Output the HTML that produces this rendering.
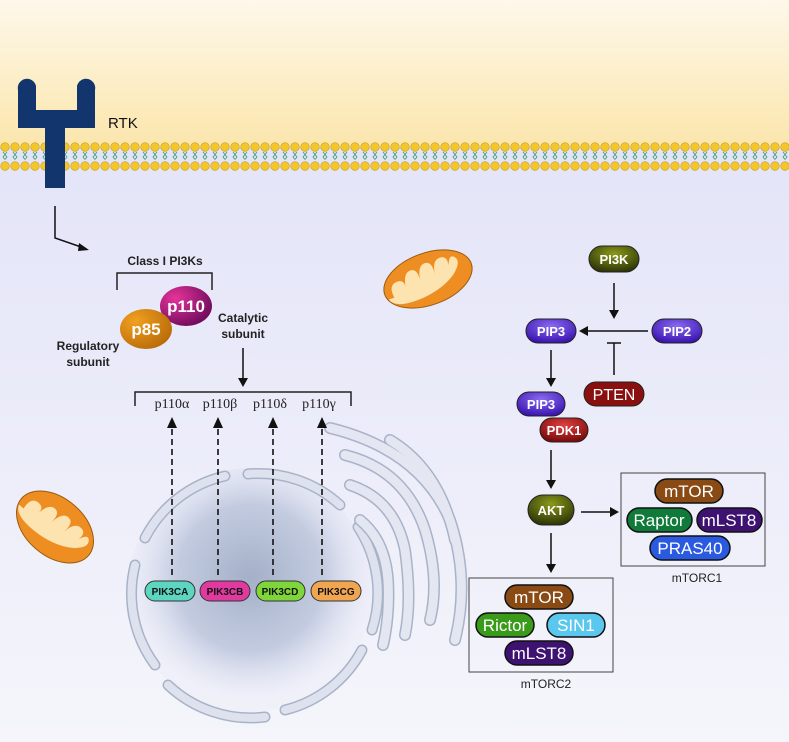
<!DOCTYPE html>
<html><head><meta charset="utf-8"><style>
html,body{margin:0;padding:0;width:789px;height:742px;overflow:hidden;background:#eceef9}
svg{display:block}
text{font-family:"Liberation Sans",sans-serif}
</style></head><body>
<svg width="789" height="742" viewBox="0 0 789 742" xmlns="http://www.w3.org/2000/svg">
<defs>
<linearGradient id="top" x1="0" y1="0" x2="0" y2="1"><stop offset="0" stop-color="#fdf8ea"/><stop offset="1" stop-color="#fbe6ad"/></linearGradient>
<linearGradient id="cyt" x1="0" y1="0" x2="0" y2="1"><stop offset="0" stop-color="#e3e4f8"/><stop offset="1" stop-color="#f5f5fb"/></linearGradient>
<radialGradient id="nuc" cx="0.5" cy="0.45" r="0.5"><stop offset="0" stop-color="#a4b0c8"/><stop offset="0.6" stop-color="#c3cbe0"/><stop offset="1" stop-color="#e6e8f6" stop-opacity="0.3"/></radialGradient>
<radialGradient id="g110" cx="0.3" cy="0.3" r="0.8"><stop offset="0" stop-color="#e6339a"/><stop offset="1" stop-color="#6a0a5a"/></radialGradient>
<radialGradient id="g85" cx="0.3" cy="0.3" r="0.8"><stop offset="0" stop-color="#f0a020"/><stop offset="1" stop-color="#b86a08"/></radialGradient>
<radialGradient id="gol" cx="0.5" cy="0.3" r="0.7"><stop offset="0" stop-color="#8a9a1a"/><stop offset="1" stop-color="#2e3508"/></radialGradient>
<radialGradient id="gpu" cx="0.5" cy="0.3" r="0.7"><stop offset="0" stop-color="#8a6af0"/><stop offset="1" stop-color="#3a14b0"/></radialGradient>
<radialGradient id="grd" cx="0.5" cy="0.3" r="0.7"><stop offset="0" stop-color="#e04040"/><stop offset="1" stop-color="#7a0a0a"/></radialGradient>
<pattern id="lip" x="0" y="142" width="10" height="29" patternUnits="userSpaceOnUse">
<circle cx="5" cy="5" r="4.3" fill="#f3c62a" stroke="#c99a10" stroke-width="0.6"/>
<circle cx="5" cy="24" r="4.3" fill="#f3c62a" stroke="#c99a10" stroke-width="0.6"/>
<path d="M3 10 l2 2.5 -2 2.5 2 2.5 M7 10 l-2 2.5 2 2.5 -2 2.5" stroke="#3a9a6a" stroke-width="0.8" fill="none"/>
</pattern>
</defs>
<rect x="0" y="0" width="789" height="145" fill="url(#top)"/>
<rect x="0" y="145" width="789" height="597" fill="url(#cyt)"/>
<rect x="0" y="142" width="789" height="29" fill="url(#lip)"/>
<!-- RTK -->
<path d="M18 90 a9 9 0 0 1 18 -4 v24 h41 v-24 a9 9 0 0 1 18 4 v38 h-30 v60 h-20 v-60 h-27 z" fill="#12356e"/>
<text x="108" y="128" font-size="15" fill="#111">RTK</text>
<path d="M55 206 V238 L84 248" stroke="#111" stroke-width="1.5" fill="none"/>
<path d="M89 250 l-10 -7 -1 8 z" fill="#111"/>
<!-- mitochondria -->
<g transform="translate(428,279) rotate(-20)">
<ellipse rx="46" ry="26" fill="#ee8e22" stroke="#9a5a10" stroke-width="1"/>
<path d="M-38 6 q-2 -14 8 -14 q8 0 6 10 q2 -16 10 -16 q8 0 6 14 q2 -16 10 -16 q8 0 6 14 q2 -14 10 -14 q8 0 6 10 q4 -10 8 -6 q6 6 -6 16 q-14 10 -36 12 q-30 2 -34 -10z" fill="#fde3b0"/>
</g>
<g transform="translate(55,527) rotate(40)">
<ellipse rx="44" ry="29" fill="#ee8e22" stroke="#9a5a10" stroke-width="1"/>
<path d="M-36 6 q-2 -14 8 -14 q8 0 6 10 q2 -16 10 -16 q8 0 6 14 q2 -16 10 -16 q8 0 6 14 q2 -14 10 -14 q8 0 6 10 q4 -10 8 -6 q6 6 -6 16 q-14 10 -36 12 q-30 2 -34 -10z" fill="#fde3b0"/>
</g>
<!-- Class I -->
<text x="165" y="265" font-size="12" font-weight="bold" text-anchor="middle" fill="#222">Class I PI3Ks</text>
<path d="M117 290 V273 H212 V290" stroke="#222" stroke-width="1.5" fill="none"/>
<ellipse cx="186" cy="306" rx="26" ry="20" fill="url(#g110)"/>
<text x="186" y="312" font-size="17" font-weight="bold" text-anchor="middle" fill="#fff">p110</text>
<ellipse cx="146" cy="329" rx="26" ry="20" fill="url(#g85)"/>
<text x="146" y="335" font-size="17" font-weight="bold" text-anchor="middle" fill="#fff">p85</text>
<text x="88" y="350" font-size="12" font-weight="bold" text-anchor="middle" fill="#222">Regulatory</text>
<text x="88" y="366" font-size="12" font-weight="bold" text-anchor="middle" fill="#222">subunit</text>
<text x="243" y="322" font-size="12" font-weight="bold" text-anchor="middle" fill="#222">Catalytic</text>
<text x="243" y="338" font-size="12" font-weight="bold" text-anchor="middle" fill="#222">subunit</text>
<path d="M243 348 V380" stroke="#111" stroke-width="1.5"/><path d="M238 378 h10 l-5 9z" fill="#111"/>
<path d="M135 406 V392 H351 V406" stroke="#222" stroke-width="1.5" fill="none"/>
<g font-size="14" fill="#222" text-anchor="middle">
<text x="172" y="408" style="font-family:'Liberation Serif',serif">p110α</text>
<text x="220" y="408" style="font-family:'Liberation Serif',serif">p110β</text>
<text x="270" y="408" style="font-family:'Liberation Serif',serif">p110δ</text>
<text x="319" y="408" style="font-family:'Liberation Serif',serif">p110γ</text>
</g>
<!-- nucleus -->
<circle cx="250" cy="590" r="122" fill="url(#nuc)"/>
<g stroke="#a9b3c8" stroke-width="11" fill="none" stroke-linecap="round">
<path d="M145 538 A120 120 0 0 1 225 476" />
<path d="M248 474 A120 120 0 0 1 340 505"/>
<path d="M358 527 A120 120 0 0 1 372 630"/>
<path d="M362 650 A120 120 0 0 1 285 710"/>
<path d="M265 717 A120 120 0 0 1 168 685"/>
<path d="M155 665 A120 120 0 0 1 135 565"/>
</g>
<g stroke="#dde2ee" stroke-width="8" fill="none" stroke-linecap="round">
<path d="M145 538 A120 120 0 0 1 225 476" />
<path d="M248 474 A120 120 0 0 1 340 505"/>
<path d="M358 527 A120 120 0 0 1 372 630"/>
<path d="M362 650 A120 120 0 0 1 285 710"/>
<path d="M265 717 A120 120 0 0 1 168 685"/>
<path d="M155 665 A120 120 0 0 1 135 565"/>
</g>
<!-- golgi -->
<g fill="none" stroke-linecap="round">
<g stroke="#a9b3c8" stroke-width="12">
<path d="M330 428 Q420 450 450 520 Q470 580 455 640"/>
<path d="M345 455 Q405 470 425 530 Q440 580 430 620"/>
<path d="M350 485 Q395 500 405 550 Q412 600 405 635"/>
<path d="M360 520 Q385 540 388 580 Q390 615 383 645"/>
<path d="M390 440 Q440 470 455 540"/>
</g>
<g stroke="#e4e7f2" stroke-width="9">
<path d="M330 428 Q420 450 450 520 Q470 580 455 640"/>
<path d="M345 455 Q405 470 425 530 Q440 580 430 620"/>
<path d="M350 485 Q395 500 405 550 Q412 600 405 635"/>
<path d="M360 520 Q385 540 388 580 Q390 615 383 645"/>
<path d="M390 440 Q440 470 455 540"/>
</g>
</g>
<!-- dashed arrows -->
<g stroke="#111" stroke-width="1.6" stroke-dasharray="6,4">
<path d="M172 575 V425"/><path d="M218 575 V425"/><path d="M273 575 V425"/><path d="M322 575 V425"/>
</g>
<g fill="#111"><path d="M167 428 h10 l-5 -11z"/><path d="M213 428 h10 l-5 -11z"/><path d="M268 428 h10 l-5 -11z"/><path d="M317 428 h10 l-5 -11z"/></g>
<g stroke="#333" stroke-width="1">
<rect x="145" y="581" width="50" height="20" rx="10" fill="#5cd6c0"/>
<rect x="200" y="581" width="50" height="20" rx="10" fill="#e03aa0"/>
<rect x="256" y="581" width="49" height="20" rx="10" fill="#7ed63a"/>
<rect x="311" y="581" width="50" height="20" rx="10" fill="#f0a650"/>
</g>
<g font-size="10" font-weight="bold" text-anchor="middle" fill="#111">
<text x="170" y="595">PIK3CA</text><text x="225" y="595">PIK3CB</text><text x="280" y="595">PIK3CD</text><text x="336" y="595">PIK3CG</text>
</g>
<!-- right pathway -->
<g stroke="#222" stroke-width="1">
<rect x="589" y="246" width="50" height="26" rx="13" fill="url(#gol)"/>
<rect x="526" y="319" width="50" height="24" rx="12" fill="url(#gpu)"/>
<rect x="652" y="319" width="50" height="24" rx="12" fill="url(#gpu)"/>
<rect x="584" y="382" width="60" height="24" rx="12" fill="#8a1010"/>
<rect x="517" y="392" width="48" height="24" rx="12" fill="url(#gpu)"/>
<rect x="540" y="418" width="48" height="24" rx="12" fill="url(#grd)"/>
<rect x="528" y="495" width="46" height="30" rx="15" fill="url(#gol)"/>
</g>
<g font-size="13" font-weight="bold" text-anchor="middle" fill="#fff">
<text x="614" y="264">PI3K</text><text x="551" y="336">PIP3</text><text x="677" y="336">PIP2</text>
<text x="541" y="409">PIP3</text><text x="564" y="435">PDK1</text><text x="551" y="515">AKT</text>
</g>
<text x="614" y="400" font-size="16" text-anchor="middle" fill="#fff">PTEN</text>
<g stroke="#111" stroke-width="1.5" fill="none">
<path d="M614 283 V312"/><path d="M648 331 H586"/><path d="M614 375 V343 M607 343 H621"/>
<path d="M551 350 V380"/><path d="M551 450 V482"/><path d="M581 512 H612"/><path d="M551 533 V566"/>
</g>
<g fill="#111">
<path d="M609 310 h10 l-5 9z"/><path d="M588 326 v10 l-9 -5z"/><path d="M546 378 h10 l-5 9z"/>
<path d="M546 480 h10 l-5 9z"/><path d="M610 507 v10 l9 -5z"/><path d="M546 564 h10 l-5 9z"/>
</g>
<rect x="621" y="473" width="144" height="93" fill="none" stroke="#444" stroke-width="1"/>
<text x="697" y="582" font-size="12" text-anchor="middle" fill="#222">mTORC1</text>
<rect x="469" y="578" width="144" height="94" fill="none" stroke="#444" stroke-width="1"/>
<text x="546" y="688" font-size="12" text-anchor="middle" fill="#222">mTORC2</text>
<g stroke="#111" stroke-width="1.5">
<rect x="655" y="479" width="68" height="24" rx="12" fill="#8a4a14"/>
<rect x="627" y="508" width="65" height="24" rx="12" fill="#0f7a3a"/>
<rect x="697" y="508" width="65" height="24" rx="12" fill="#3e1270"/>
<rect x="650" y="536" width="80" height="24" rx="12" fill="#2a5ae0"/>
<rect x="505" y="585" width="68" height="24" rx="12" fill="#8a4a14"/>
<rect x="476" y="613" width="58" height="24" rx="12" fill="#3a9a1a"/>
<rect x="547" y="613" width="58" height="24" rx="12" fill="#5ac8ee"/>
<rect x="505" y="641" width="68" height="24" rx="12" fill="#3e1270"/>
</g>
<g font-size="17" text-anchor="middle" fill="#fff">
<text x="689" y="497">mTOR</text><text x="659" y="526">Raptor</text><text x="729" y="526">mLST8</text><text x="690" y="554">PRAS40</text>
<text x="539" y="603">mTOR</text><text x="505" y="631">Rictor</text><text x="576" y="631">SIN1</text><text x="539" y="659">mLST8</text>
</g>
</svg>
</body></html>
